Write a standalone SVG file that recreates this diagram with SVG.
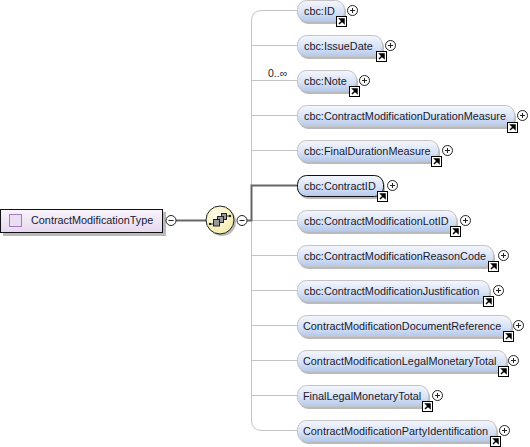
<svg xmlns="http://www.w3.org/2000/svg" width="530" height="447" viewBox="0 0 530 447">
<style>
text{font-family:"Liberation Sans",Arial,sans-serif;font-size:10.85px;fill:#1a1a2e}
.n{fill:url(#blue);stroke:#c4c4c4;stroke-width:1}
.s{fill:#8c8c8c;opacity:.6}
.c{fill:none;stroke:#c4c4c4;stroke-width:1}
.b{fill:none;stroke:#666;stroke-width:2}
.o{fill:#fff;stroke:#222;stroke-width:1}
.m{stroke:#222;stroke-width:1;fill:none}
.g{fill:#999;stroke:#222;stroke-width:1}
</style>
<defs>
<linearGradient id="blue" x1="0" y1="0" x2="0" y2="1"><stop offset="0" stop-color="#f4f6fc"/><stop offset=".55" stop-color="#d8e3f6"/><stop offset="1" stop-color="#b4c8ea"/></linearGradient>
<linearGradient id="pink" x1="0" y1="0" x2="0" y2="1"><stop offset="0" stop-color="#f9f4fb"/><stop offset="1" stop-color="#e6d8ee"/></linearGradient>
<radialGradient id="yel" cx=".4" cy=".35" r=".7"><stop offset="0" stop-color="#fffff0"/><stop offset="1" stop-color="#f3e9a8"/></radialGradient>
<g id="plus"><circle r="5" class="o"/><path d="M-2.500 0H2.500M0-2.500V2.500" class="m"/></g>
<g id="minus"><circle r="5" class="o"/><path d="M-2.500 0H2.500" class="m"/></g>
<g id="ref"><rect width="10" height="10" fill="#fff" stroke="#000"/><path d="M2.500 7.500L6 4M3.500 2.500H7.500V6.500Z" stroke="#000" stroke-width="1.500" fill="#000"/></g>
</defs>
<g id="connectors">
<path class="c" d="M297 10.500H262Q251.500 10.500 251.500 21V420Q251.500 430.500 262 430.500H297"/>
<path class="c" d="M251.500 45.500H297M251.500 80.500H297M251.500 115.500H297M251.500 150.500H297M251.500 220.500H297M251.500 255.500H297M251.500 290.500H297M251.500 325.500H297M251.500 360.500H297M251.500 395.500H297"/>
<path class="b" d="M176 220.500H206"/>
<path class="b" d="M247 220.500H251.500V185.500H297"/>
</g>
<g id="root"><rect x="3" y="212" width="163" height="24" class="s"/><rect x="0.500" y="209.500" width="162" height="23" fill="url(#pink)" stroke="#111"/><rect x="9.500" y="214.500" width="12" height="12" fill="#eadff2" stroke="#a678c0"/><text x="31" y="224">ContractModificationType</text><use href="#minus" x="171" y="220.500"/></g>
<g id="seq"><circle cx="222" cy="222" r="14" class="s"/><circle cx="220" cy="220" r="14" fill="url(#yel)" stroke="#222"/><path d="M210 224H214M226 216H230" stroke="#222"/><circle cx="210" cy="224" r="1.200" fill="#222"/><circle cx="230" cy="216" r="1.200" fill="#222"/><rect x="221.500" y="213.500" width="5" height="6" class="g"/><rect x="217.500" y="216.500" width="6" height="6" class="g"/><rect x="213.500" y="219.500" width="6" height="6.500" class="g"/><use href="#minus" x="242" y="220.500"/></g>
<g id="n1"><rect class="s" x="299" y="3" width="47" height="21" rx="9"/><rect class="n" x="297.500" y="0.500" width="47" height="21" rx="9"/><text x="304" y="15">cbc:ID</text><use href="#ref" x="336.500" y="16.500"/><use href="#plus" x="352.500" y="10.500"/></g>
<g id="n2"><rect class="s" x="299" y="38" width="85" height="21" rx="9"/><rect class="n" x="297.500" y="35.500" width="85" height="21" rx="9"/><text x="304" y="50">cbc:IssueDate</text><use href="#ref" x="376.500" y="51.500"/><use href="#plus" x="390.500" y="45.500"/></g>
<g id="n3"><text x="268" y="77" style="font-size:10.5px">0..∞</text><rect class="s" x="299" y="73" width="59" height="21" rx="9"/><rect class="n" x="297.500" y="70.500" width="59" height="21" rx="9"/><text x="304" y="85">cbc:Note</text><use href="#ref" x="349.500" y="86.500"/><use href="#plus" x="364.500" y="80.500"/></g>
<g id="n4"><rect class="s" x="299" y="108" width="217" height="21" rx="9"/><rect class="n" x="297.500" y="105.500" width="217" height="21" rx="9"/><text x="304" y="120">cbc:ContractModificationDurationMeasure</text><use href="#ref" x="507.500" y="122.500"/><use href="#plus" x="522.500" y="115.500"/></g>
<g id="n5"><rect class="s" x="299" y="143" width="141" height="21" rx="9"/><rect class="n" x="297.500" y="140.500" width="141" height="21" rx="9"/><text x="304" y="155">cbc:FinalDurationMeasure</text><use href="#ref" x="431.500" y="156.500"/><use href="#plus" x="447.500" y="150.500"/></g>
<g id="n6"><rect class="s" x="299" y="178" width="86" height="21" rx="9"/><rect class="n" x="297.500" y="175.500" width="86" height="21" rx="9" style="stroke:#111"/><text x="304" y="190">cbc:ContractID</text><use href="#ref" x="377.500" y="191.500"/><use href="#plus" x="392.500" y="185.500"/></g>
<g id="n7"><rect class="s" x="299" y="213" width="159" height="21" rx="9"/><rect class="n" x="297.500" y="210.500" width="159" height="21" rx="9"/><text x="304" y="225">cbc:ContractModificationLotID</text><use href="#ref" x="450.500" y="226.500"/><use href="#plus" x="465.500" y="220.500"/></g>
<g id="n8"><rect class="s" x="299" y="248" width="196" height="21" rx="9"/><rect class="n" x="297.500" y="245.500" width="196" height="21" rx="9"/><text x="304" y="260">cbc:ContractModificationReasonCode</text><use href="#ref" x="488.500" y="261.500"/><use href="#plus" x="503.500" y="255.500"/></g>
<g id="n9"><rect class="s" x="299" y="283" width="192" height="21" rx="9"/><rect class="n" x="297.500" y="280.500" width="192" height="21" rx="9"/><text x="304" y="295">cbc:ContractModificationJustification</text><use href="#ref" x="483.500" y="296.500"/><use href="#plus" x="498.500" y="290.500"/></g>
<g id="n10"><rect class="s" x="299" y="318" width="214" height="21" rx="9"/><rect class="n" x="297.500" y="315.500" width="214" height="21" rx="9"/><text x="303" y="330">ContractModificationDocumentReference</text><use href="#ref" x="503.500" y="331.500"/><use href="#plus" x="518.500" y="325.500"/></g>
<g id="n11"><rect class="s" x="299" y="353" width="209" height="21" rx="9"/><rect class="n" x="297.500" y="350.500" width="209" height="21" rx="9"/><text x="303" y="365">ContractModificationLegalMonetaryTotal</text><use href="#ref" x="498.500" y="366.500"/><use href="#plus" x="513.500" y="360.500"/></g>
<g id="n12"><rect class="s" x="299" y="388" width="131" height="21" rx="9"/><rect class="n" x="297.500" y="385.500" width="131" height="21" rx="9"/><text x="303" y="400">FinalLegalMonetaryTotal</text><use href="#ref" x="422.500" y="401.500"/><use href="#plus" x="437.500" y="395.500"/></g>
<g id="n13"><rect class="s" x="299" y="423" width="199" height="21" rx="9"/><rect class="n" x="297.500" y="420.500" width="199" height="21" rx="9"/><text x="303" y="435">ContractModificationPartyIdentification</text><use href="#ref" x="490.500" y="436.500"/><use href="#plus" x="504.500" y="430.500"/></g>
</svg>
